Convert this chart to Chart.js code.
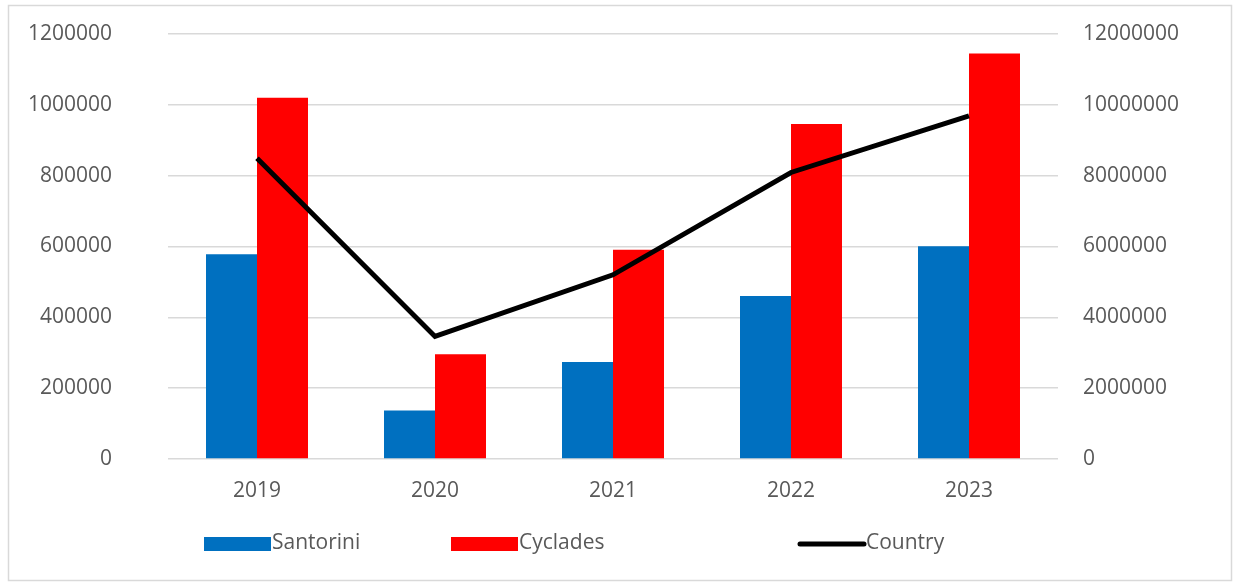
<!DOCTYPE html>
<html lang="en">
<head>
    <meta charset="UTF-8">
    <title>Santorini, Cyclades and Country</title>
    <script src="https://cdn.jsdelivr.net/npm/chart.js"></script>
    <style>
        body {
            margin: 0;
            padding: 0;
            background-color: #ffffff;
        }
        .wrap {
            width: 1233px;
            height: 582px;
            position: relative;
        }
    </style>
</head>
<body>
    <div class="wrap">
        <canvas id="tourismChart" width="1233" height="582"></canvas>
    </div>
    <script>
        const years = ['2019', '2020', '2021', '2022', '2023'];
        const santorini = [578000, 137000, 274000, 460000, 601000];
        const cyclades = [1020000, 296000, 591000, 946000, 1145000];
        const country = [8490000, 3460000, 5200000, 8090000, 9690000];

        const textColor = '#595959';
        const gridColor = '#d9d9d9';
        const fontFamily = '"Open Sans", "Liberation Sans", sans-serif';

        // outer frame + white background
        const framePlugin = {
            id: 'frame',
            beforeDraw(chart) {
                const ctx = chart.ctx;
                ctx.save();
                ctx.fillStyle = '#ffffff';
                ctx.fillRect(0, 0, chart.width, chart.height);
                ctx.strokeStyle = gridColor;
                ctx.lineWidth = 1.5;
                ctx.strokeRect(8.5, 5.5, 1223, 575);
                ctx.restore();
            }
        };

        // legend laid out like the original (fixed slots)
        const legendSlots = [204, 451, 798];
        const legendPlugin = {
            id: 'slotLegend',
            afterDraw(chart) {
                const ctx = chart.ctx;
                const y = 544;
                ctx.save();
                ctx.font = '21px ' + fontFamily;
                ctx.textBaseline = 'middle';
                chart.data.datasets.forEach((ds, i) => {
                    const x = legendSlots[i];
                    if (ds.type === 'line') {
                        ctx.strokeStyle = ds.borderColor;
                        ctx.lineWidth = 5;
                        ctx.lineCap = 'round';
                        ctx.beginPath();
                        ctx.moveTo(x + 2, y);
                        ctx.lineTo(x + 66, y);
                        ctx.stroke();
                    } else {
                        ctx.fillStyle = ds.backgroundColor;
                        ctx.fillRect(x, y - 7, 67, 14);
                    }
                    ctx.fillStyle = textColor;
                    ctx.textAlign = 'left';
                    ctx.fillText(ds.label, x + 68, y - 1);
                });
                ctx.restore();
            }
        };

        const ctx = document.getElementById('tourismChart').getContext('2d');
        const chart = new Chart(ctx, {
            data: {
                labels: years,
                datasets: [
                    {
                        type: 'bar',
                        label: 'Santorini',
                        data: santorini,
                        backgroundColor: '#0070C0',
                        yAxisID: 'y',
                        order: 2,
                        categoryPercentage: 0.573,
                        barPercentage: 1
                    },
                    {
                        type: 'bar',
                        label: 'Cyclades',
                        data: cyclades,
                        backgroundColor: '#FF0000',
                        yAxisID: 'y',
                        order: 2,
                        categoryPercentage: 0.573,
                        barPercentage: 1
                    },
                    {
                        type: 'line',
                        label: 'Country',
                        data: country,
                        borderColor: '#000000',
                        borderWidth: 5,
                        pointRadius: 0,
                        tension: 0,
                        yAxisID: 'y1',
                        order: 0
                    }
                ]
            },
            options: {
                responsive: false,
                animation: false,
                layout: {
                    padding: { top: 34, left: 0, right: 0, bottom: 0 }
                },
                plugins: {
                    legend: { display: false },
                    tooltip: { enabled: false }
                },
                scales: {
                    x: {
                        grid: { display: false, drawTicks: false },
                        border: { display: false },
                        ticks: {
                            color: textColor,
                            font: { size: 21, family: fontFamily },
                            padding: 19
                        },
                        afterFit(scale) { scale.height = 123; }
                    },
                    y: {
                        position: 'left',
                        min: 0,
                        max: 1200000,
                        // invisible tick marks push the labels away from the plot
                        grid: { color: gridColor, lineWidth: 1.5, tickLength: 56, tickColor: 'rgba(0,0,0,0)' },
                        border: { display: false },
                        ticks: {
                            stepSize: 200000,
                            color: textColor,
                            font: { size: 21, family: fontFamily },
                            padding: 0,
                            callback: v => String(v)
                        },
                        afterFit(scale) { scale.width = 168; }
                    },
                    y1: {
                        position: 'right',
                        min: 0,
                        max: 12000000,
                        grid: { display: false, drawOnChartArea: false, tickLength: 25, tickColor: 'rgba(0,0,0,0)' },
                        border: { display: false },
                        ticks: {
                            stepSize: 2000000,
                            color: textColor,
                            font: { size: 21, family: fontFamily },
                            padding: 0,
                            callback: v => String(v)
                        },
                        afterFit(scale) { scale.width = 175; }
                    }
                }
            },
            plugins: [framePlugin, legendPlugin]
        });
    </script>
</body>
</html>
